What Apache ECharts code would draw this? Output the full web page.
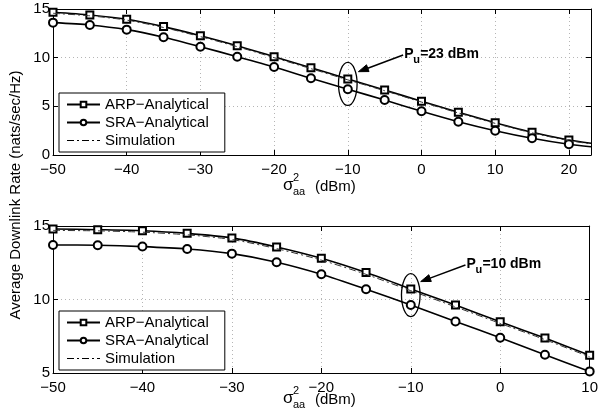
<!DOCTYPE html>
<html><head><meta charset="utf-8">
<script src="https://cdn.jsdelivr.net/npm/echarts@6/dist/echarts.min.js"></script>
<style>html,body{margin:0;padding:0;background:#fff}#c{width:601px;height:419px}</style>
</head><body><div id="c"></div>
<script>
// ---- data ----
const xTop   = [-50, -45, -40, -35, -30, -25, -20, -15, -10, -5, 0, 5, 10, 15, 20, 23];
const arpTop = [14.67, 14.39, 13.94, 13.19, 12.26, 11.23, 10.10, 8.97, 7.81, 6.68, 5.52, 4.39, 3.32, 2.33, 1.54, 1.20];
const sraTop = [13.60, 13.36, 12.88, 12.10, 11.13, 10.10, 9.04, 7.88, 6.75, 5.65, 4.49, 3.42, 2.50, 1.72, 1.10, 0.85];
const simTop = [14.56, 14.30, 13.86, 13.10, 12.16, 11.13, 10.00, 8.87, 7.72, 6.60, 5.44, 4.32, 3.25, 2.27, 1.48, 1.14];

const xBot   = [-50, -45, -40, -35, -30, -25, -20, -15, -10, -5, 0, 5, 10];
const arpBot = [14.80, 14.75, 14.68, 14.50, 14.19, 13.57, 12.80, 11.83, 10.72, 9.62, 8.48, 7.38, 6.20];
const sraBot = [13.71, 13.69, 13.60, 13.44, 13.12, 12.54, 11.72, 10.70, 9.62, 8.50, 7.40, 6.24, 5.11];
const simBot = [14.70, 14.67, 14.58, 14.40, 14.08, 13.46, 12.68, 11.71, 10.60, 9.50, 8.37, 7.27, 6.10];

const xTicksTop = {min: -50, max: 23, interval: 10};
const xTicksBot = {min: -50, max: 10, interval: 10};
const yTicksTop = {min: 0, max: 15, interval: 5};
const yTicksBot = {min: 5, max: 15, interval: 5};

const names = ['ARP\u2212Analytical', 'SRA\u2212Analytical', 'Simulation'];
const yTitle = 'Average Downlink Rate (nats/sec/Hz)';
const annTop = {label: '=23 dBm', cx: -10, cy: 7.3, tip: [-8.56, 8.56], tail: [-2.49, 10.28]};
const annBot = {label: '=10 dBm', cx: -10, cy: 10.3, tip: [-8.89, 11.22], tail: [-3.89, 12.35]};

// ---- chart ----
const FONT = '"Liberation Sans", Arial, Helvetica, sans-serif';
const chart = echarts.init(document.getElementById('c'), null, {renderer: 'canvas'});
const fmt = v => String(v).replace('-', '\u2212');
const dashDotIcon = 'path://M0 0h7v1.2h-7z M10 0h2v1.2h-2z M15 0h7v1.2h-7z M25 0h2v1.2h-2z M30 0h3v1.2h-3z';

function pts(xs, ys) {
  return xs.map((x, i) => {
    const d = {value: [x, ys[i]]};
    if (x % 5 !== 0) d.symbol = 'none';
    return d;
  });
}

function xAx(grid, t, top) {
  return {
    type: 'value', gridIndex: grid, position: top ? 'top' : 'bottom',
    min: t.min, max: t.max, interval: t.interval,
    axisLine: {show: true, onZero: false, lineStyle: {color: '#000', width: 1}},
    axisTick: {show: true, inside: true, length: 5, lineStyle: {color: '#000'}},
    axisLabel: top ? {show: false} : {show: true, formatter: fmt, fontSize: 15, fontFamily: FONT,
      color: '#000', margin: 7, showMaxLabel: t.max % t.interval === 0},
    splitLine: top ? {show: false} : {show: true, lineStyle: {type: [1, 3], color: '#b5b5b5', width: 1}}
  };
}
function yAx(grid, t, right) {
  return {
    type: 'value', gridIndex: grid, position: right ? 'right' : 'left',
    min: t.min, max: t.max, interval: t.interval,
    axisLine: {show: true, onZero: false, lineStyle: {color: '#000', width: 1}},
    axisTick: {show: true, inside: true, length: 5, lineStyle: {color: '#000'}},
    axisLabel: right ? {show: false} : {show: true, formatter: fmt, fontSize: 15, fontFamily: FONT,
      color: '#000', margin: 3},
    splitLine: right ? {show: false} : {show: true, lineStyle: {type: [1, 3], color: '#b5b5b5', width: 1}}
  };
}
function seriesFor(grid, xs, arp, sra, sim) {
  const xi = grid * 2, yi = grid * 2;
  return [
    {name: names[0], type: 'line', xAxisIndex: xi, yAxisIndex: yi, data: pts(xs, arp),
     smooth: 0.25, symbol: 'emptyRect', symbolSize: 7, color: '#000', z: 3,
     lineStyle: {color: '#000', width: 1.6}, itemStyle: {color: '#000', borderWidth: 1.3}},
    {name: names[1], type: 'line', xAxisIndex: xi, yAxisIndex: yi, data: pts(xs, sra),
     smooth: 0.25, symbol: 'emptyCircle', symbolSize: 8, color: '#000', z: 3,
     lineStyle: {color: '#000', width: 1.6}, itemStyle: {color: '#000', borderWidth: 1.3}},
    {name: names[2], type: 'line', xAxisIndex: xi, yAxisIndex: yi, data: xs.map((x, i) => [x, sim[i]]),
     smooth: 0.25, symbol: 'none', color: '#000', z: 4,
     lineStyle: {color: '#333', width: 1, type: [7, 3, 2, 3]}}
  ];
}
function legendAt(top) {
  return {
    orient: 'vertical', left: 59, top: top,
    data: [{name: names[0]}, {name: names[1]}, {name: names[2], icon: dashDotIcon}],
    borderColor: '#000', borderWidth: 1, backgroundColor: '#fff', borderRadius: 0,
    padding: [4, 16, 4, 7], itemWidth: 33, itemHeight: 7, itemGap: 3,
    textStyle: {fontSize: 15, fontFamily: FONT, color: '#000'},
    selectedMode: false, z: 10
  };
}

chart.setOption({
  animation: false,
  backgroundColor: '#fff',
  grid: [
    {left: 53, right: 10, top: 9, height: 146},
    {left: 53, right: 9, top: 226, height: 147}
  ],
  xAxis: [xAx(0, xTicksTop, false), xAx(0, xTicksTop, true), xAx(1, xTicksBot, false), xAx(1, xTicksBot, true)],
  yAxis: [yAx(0, yTicksTop, false), yAx(0, yTicksTop, true), yAx(1, yTicksBot, false), yAx(1, yTicksBot, true)],
  legend: [legendAt(93), legendAt(311)],
  series: [].concat(seriesFor(0, xTop, arpTop, sraTop, simTop), seriesFor(1, xBot, arpBot, sraBot, simBot))
});

function txt(x, y, text, size, opts) {
  return Object.assign({
    type: 'text', x: x, y: y, z: 20,
    style: Object.assign({text: text, fontSize: size, fontFamily: FONT, fill: '#000',
      align: 'left', verticalAlign: 'middle', textAlign: 'left', textVerticalAlign: 'middle'}, (opts && opts.style) || {})
  }, opts && opts.rotation !== undefined ? {rotation: opts.rotation} : {});
}
function annotation(grid, a) {
  const c = chart.convertToPixel({gridIndex: grid}, [a.cx, a.cy]);
  const tip = chart.convertToPixel({gridIndex: grid}, a.tip);
  const tail = chart.convertToPixel({gridIndex: grid}, a.tail);
  const dx = tip[0] - tail[0], dy = tip[1] - tail[1];
  const L = Math.sqrt(dx * dx + dy * dy), ux = dx / L, uy = dy / L;
  const hl = 10, hw = 3.6;
  const bx = tip[0] - ux * hl, by = tip[1] - uy * hl;
  return [
    {type: 'ellipse', z: 20, shape: {cx: c[0], cy: c[1], rx: 9.3, ry: 21.5},
     style: {fill: 'none', stroke: '#000', lineWidth: 1.3}},
    {type: 'line', z: 20, shape: {x1: tail[0], y1: tail[1], x2: bx, y2: by},
     style: {stroke: '#000', lineWidth: 1.5}},
    {type: 'polygon', z: 20, shape: {points: [[tip[0], tip[1]], [bx - uy * hw, by + ux * hw], [bx + uy * hw, by - ux * hw]]},
     style: {fill: '#000', stroke: '#000', lineWidth: 1}},
    txt(tail[0] + 1, tail[1] - 1, 'P', 14, {style: {fontWeight: 'bold'}}),
    txt(tail[0] + 10, tail[1] + 5, 'u', 11, {style: {fontWeight: 'bold'}}),
    txt(tail[0] + 17, tail[1] - 1, a.label, 14, {style: {fontWeight: 'bold'}})
  ];
}
function xTitle(y) {
  return [
    txt(283, y - 2, '\u03c3', 17),
    txt(293, y - 9, '2', 11),
    txt(293, y + 5, 'aa', 11),
    txt(315, y, '(dBm)', 15)
  ];
}

const g = [].concat(
  annotation(0, annTop), annotation(1, annBot),
  xTitle(187), xTitle(400),
  [txt(16, 195, yTitle, 15, {rotation: Math.PI / 2, style: {align: 'center', textAlign: 'center'}})]
);
chart.setOption({graphic: g});
</script>
</body></html>
